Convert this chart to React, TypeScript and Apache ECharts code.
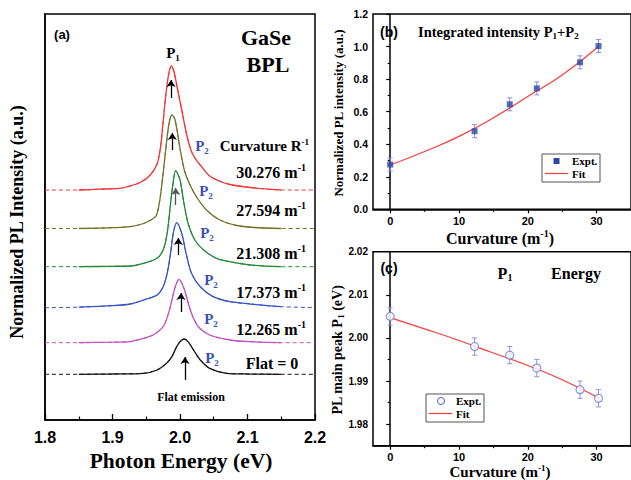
import React, { useEffect, useRef } from "react";
import * as echarts from "echarts";

// ---------- Panel (a): PL spectra (energy eV, intensity above own baseline) ----------
const SPECTRUM_LABELS = ["Flat = 0", "12.265", "17.373", "21.308", "27.594", "30.276"];
const SPECTRUM_COLORS = ["#161616", "#c352c3", "#3854c4", "#218a3b", "#72722a", "#f23636"];
const SPECTRUM_OFFSETS = [0.457, 0.773, 1.123, 1.533, 1.915, 2.3];

const SPEC_FLAT = [
  [1.85, 0], [1.9, 0.003], [1.946, 0.01], [1.966, 0.043], [1.98, 0.11], [1.988, 0.176],
  [1.995, 0.276], [2.0, 0.326], [2.006, 0.353], [2.012, 0.326], [2.02, 0.243], [2.03, 0.143],
  [2.044, 0.06], [2.069, 0.01], [2.1, 0.003], [2.15, 0],
];
const SPEC_12 = [
  [1.85, 0], [1.9, 0.005], [1.926, 0.01], [1.941, 0.034], [1.96, 0.077], [1.975, 0.16],
  [1.983, 0.294], [1.988, 0.427], [1.993, 0.56], [1.9985, 0.634], [2.005, 0.56], [2.011, 0.427],
  [2.017, 0.294], [2.027, 0.16], [2.044, 0.077], [2.074, 0.027], [2.104, 0.01], [2.15, 0],
];
const SPEC_17 = [
  [1.85, 0.005], [1.9, 0.02], [1.926, 0.037], [1.946, 0.077], [1.966, 0.127], [1.975, 0.21],
  [1.981, 0.344], [1.986, 0.544], [1.99, 0.744], [1.995, 0.85], [2.0025, 0.744], [2.009, 0.544],
  [2.017, 0.344], [2.03, 0.21], [2.049, 0.11], [2.074, 0.06], [2.104, 0.037], [2.13, 0.02], [2.15, 0.01],
];
const SPEC_21 = [
  [1.85, 0], [1.9, 0.004], [1.926, 0.007], [1.946, 0.034], [1.966, 0.084], [1.975, 0.167],
  [1.981, 0.334], [1.985, 0.567], [1.989, 0.8], [1.9936, 0.96], [2.0, 0.867], [2.005, 0.667],
  [2.012, 0.434], [2.022, 0.267], [2.035, 0.167], [2.054, 0.084], [2.074, 0.05], [2.104, 0.017], [2.15, 0],
];
const SPEC_27 = [
  [1.85, 0], [1.9, 0.008], [1.926, 0.018], [1.946, 0.05], [1.958, 0.09], [1.965, 0.13],
  [1.97, 0.28], [1.975, 0.55], [1.98, 0.86], [1.984, 1.06], [1.988, 1.135], [1.992, 1.1],
  [1.996, 0.97], [2.0, 0.8], [2.007, 0.57], [2.016, 0.42], [2.025, 0.31], [2.04, 0.18],
  [2.059, 0.085], [2.084, 0.03], [2.11, 0.01], [2.15, 0],
];
const SPEC_30 = [
  [1.85, 0], [1.88, 0.008], [1.911, 0.017], [1.921, 0.03], [1.941, 0.075], [1.956, 0.15],
  [1.966, 0.26], [1.971, 0.42], [1.975, 0.68], [1.979, 0.95], [1.983, 1.15], [1.987, 1.24],
  [1.991, 1.185], [1.996, 1.02], [2.003, 0.785], [2.01, 0.55], [2.017, 0.385], [2.024, 0.3],
  [2.03, 0.25], [2.044, 0.14], [2.06, 0.085], [2.074, 0.055], [2.104, 0.025], [2.13, 0.008], [2.15, 0],
];
const SPECTRA = [SPEC_FLAT, SPEC_12, SPEC_17, SPEC_21, SPEC_27, SPEC_30];

// P1 arrows (energy, from, to) in panel-(a) units
const ARROW_E = [2.0074, 2.0015, 1.9975, 1.9936, 1.9886, 1.9867];
const ARROW_FROM = [0.4, 1.08, 1.65, 2.15, 2.7, 3.22];
const ARROW_TO = [0.63, 1.27, 1.82, 2.32, 2.87, 3.4];
const ARROW_COLORS = ["#000", "#000", "#000", "#555", "#000", "#000"];

// ---------- Panels (b), (c) ----------
const CURVATURE = [0, 12.265, 17.373, 21.308, 27.594, 30.276];
const INTENSITY = [0.275, 0.48, 0.645, 0.743, 0.903, 1.003];
const INTENSITY_ERR = [0.04, 0.04, 0.04, 0.04, 0.04, 0.04];
const FIT_X = [0, 5, 10, 15, 20, 25, 30.276];
const INTENSITY_FIT = [0.272, 0.355, 0.448, 0.562, 0.693, 0.825, 1.0];
const ENERGY_P1 = [2.005, 1.998, 1.996, 1.993, 1.988, 1.986];
const ENERGY_ERR = [0.002, 0.002, 0.002, 0.002, 0.002, 0.002];
const ENERGY_FIT = [2.0047, 2.0021, 1.9994, 1.9965, 1.9936, 1.9903, 1.9861];

const X_TICKS = [0, 10, 20, 30];
const X_MINOR = [5, 15, 25];
const E_TICKS = [1.98, 1.99, 2.0, 2.01, 2.02];
const E_MINOR = [1.985, 1.995, 2.005, 2.015];

const SERIF = "'Liberation Serif','Times New Roman',serif";
const SANS = "'Liberation Sans',Arial,sans-serif";
const P2_BLUE = "#3a4fb8";
const FIT_RED = "#ff3a3a";
const EXPT_B = "#2a47a6";
const EXPT_C = "#6f7cd2";

function rich(size: number, color = "#000") {
  const base = { fontWeight: "bold", fontFamily: SERIF, fill: color };
  return {
    n: { ...base, fontSize: size, lineHeight: Math.round(size * 1.2) },
    sup: { ...base, fontSize: Math.round(size * 0.62), lineHeight: Math.round(size * 0.62), verticalAlign: "top" },
    sub: { ...base, fontSize: Math.round(size * 0.62), lineHeight: Math.round(size * 0.62), verticalAlign: "bottom" },
  };
}

function rtext(text: string, x: number, y: number, size: number, align = "center", color = "#000", rotation = 0) {
  return {
    type: "text", x, y, rotation, silent: true, z: 10,
    style: {
      text, rich: rich(size, color), align, verticalAlign: "middle",
      textAlign: align, textVerticalAlign: "middle",
    },
  };
}

function stext(text: string, x: number, y: number, size: number) {
  return {
    type: "text", x, y, silent: true, z: 10,
    style: {
      text, font: `bold ${size}px ${SANS}`, fill: "#000", align: "center", verticalAlign: "middle",
      textAlign: "center", textVerticalAlign: "middle",
    },
  };
}

function legendBox(x: number, y: number, marker: any) {
  const txt = (t: string, ty: number) => ({
    type: "text", x: x + 30, y: ty, silent: true,
    style: {
      text: t, font: `bold 11px ${SERIF}`, fill: "#000", align: "left", verticalAlign: "middle",
      textAlign: "left", textVerticalAlign: "middle",
    },
  });
  return {
    type: "group", silent: true, z: 10,
    children: [
      { type: "rect", shape: { x, y, width: 58, height: 28 }, style: { fill: "#fff", stroke: "#555", lineWidth: 1 } },
      marker,
      { type: "line", shape: { x1: x + 3, y1: y + 19.5, x2: x + 26, y2: y + 19.5 }, style: { stroke: FIT_RED, lineWidth: 1.2 } },
      txt("Expt.", y + 7),
      txt("Fit", y + 19.5),
    ],
  };
}

function errorBars(color: string) {
  return (params: any, api: any) => {
    const x = api.value(0);
    const y = api.value(1);
    const e = api.value(2);
    const top = api.coord([x, y + e]);
    const bot = api.coord([x, y - e]);
    const st = { stroke: color, lineWidth: 1 };
    return {
      type: "group",
      children: [
        { type: "line", shape: { x1: top[0], y1: top[1], x2: bot[0], y2: bot[1] }, style: st },
        { type: "line", shape: { x1: top[0] - 2.5, y1: top[1], x2: top[0] + 2.5, y2: top[1] }, style: st },
        { type: "line", shape: { x1: bot[0] - 2.5, y1: bot[1], x2: bot[0] + 2.5, y2: bot[1] }, style: st },
      ],
    };
  };
}

export default function App() {
  const ref = useRef<HTMLDivElement>(null);

  useEffect(() => {
    if (!ref.current) return;
    const chart = echarts.init(ref.current, undefined, { renderer: "svg" });

    const axisLine = { show: true, lineStyle: { color: "#000", width: 1.5 } };
    const smallLabel = { color: "#000", fontFamily: SANS, fontWeight: "bold", fontSize: 11 };
    const grid = (left: number, top: number, width: number, height: number) => ({
      left, top, width, height, show: true, borderColor: "#000", borderWidth: 1.5, backgroundColor: "transparent",
    });

    const series: any[] = [];
    SPECTRA.forEach((spec, i) => {
      const off = SPECTRUM_OFFSETS[i];
      const shifted = spec.map(([e, h]) => [e, h + off]);
      series.push({
        type: "line", name: "fit " + SPECTRUM_LABELS[i], xAxisIndex: 0, yAxisIndex: 0,
        data: [[1.8, off], ...shifted, [2.2, off]], symbol: "none", showSymbol: false, smooth: 0.3,
        lineStyle: { color: SPECTRUM_COLORS[i], width: 1, type: [4, 3] }, silent: true, z: 2,
      });
    });
    SPECTRA.forEach((spec, i) => {
      const off = SPECTRUM_OFFSETS[i];
      series.push({
        type: "line", name: "data " + SPECTRUM_LABELS[i], xAxisIndex: 0, yAxisIndex: 0,
        data: spec.map(([e, h]) => [e, h + off]), symbol: "none", showSymbol: false, smooth: 0.3,
        lineStyle: { color: SPECTRUM_COLORS[i], width: 1.3 }, silent: true, z: 3,
        markLine: {
          silent: true, symbol: ["none", "arrow"], symbolSize: 7, label: { show: false }, z: 5,
          lineStyle: { color: ARROW_COLORS[i], width: 1.3, type: "solid" },
          emphasis: { disabled: true },
          data: [[
            { coord: [ARROW_E[i], ARROW_FROM[i]], symbol: "none" },
            { coord: [ARROW_E[i], ARROW_TO[i]], symbol: "arrow", symbolSize: 7 },
          ]],
        },
      });
    });

    // panel (b)
    series.push({
      type: "custom", name: "err b", xAxisIndex: 1, yAxisIndex: 1, silent: true, z: 3,
      data: CURVATURE.map((c, i) => [c, INTENSITY[i], INTENSITY_ERR[i]]),
      renderItem: errorBars("#8392e0"),
    });
    series.push({
      type: "line", name: "Fit (b)", xAxisIndex: 1, yAxisIndex: 1, smooth: true, symbol: "none",
      data: FIT_X.map((x, i) => [x, INTENSITY_FIT[i]]),
      lineStyle: { color: FIT_RED, width: 1.2 }, silent: true, z: 4,
    });
    series.push({
      type: "scatter", name: "Expt. (b)", xAxisIndex: 1, yAxisIndex: 1, symbol: "rect", symbolSize: 6,
      data: CURVATURE.map((c, i) => [c, INTENSITY[i]]), itemStyle: { color: EXPT_B }, silent: true, z: 5,
    });

    // panel (c)
    series.push({
      type: "custom", name: "err c", xAxisIndex: 3, yAxisIndex: 2, silent: true, z: 3,
      data: CURVATURE.map((c, i) => [c, ENERGY_P1[i], ENERGY_ERR[i]]),
      renderItem: errorBars("#8a94dc"),
    });
    series.push({
      type: "line", name: "Fit (c)", xAxisIndex: 3, yAxisIndex: 2, smooth: true, symbol: "none",
      data: FIT_X.map((x, i) => [x, ENERGY_FIT[i]]),
      lineStyle: { color: FIT_RED, width: 1.2 }, silent: true, z: 4,
    });
    series.push({
      type: "scatter", name: "Expt. (c)", xAxisIndex: 3, yAxisIndex: 2, symbol: "circle", symbolSize: 8,
      data: CURVATURE.map((c, i) => [c, ENERGY_P1[i]]),
      itemStyle: { color: "#ffffff", borderColor: EXPT_C, borderWidth: 1.2 }, silent: true, z: 5,
    });

    const option: any = {
      animation: false,
      backgroundColor: "#fff",
      grid: [grid(45, 14, 270, 406), grid(373, 14, 267, 195.3), grid(373, 251.7, 267, 194)],
      xAxis: [
        {
          type: "value", gridIndex: 0, min: 1.8, max: 2.2, interval: 0.1, position: "bottom",
          axisLine,
          axisTick: { show: true, inside: true, length: 6, lineStyle: { color: "#000", width: 1.3 } },
          minorTick: { show: true, splitNumber: 2, length: 3.5, lineStyle: { color: "#000", width: 1.2 } },
          axisLabel: { ...smallLabel, fontSize: 16, margin: 9, formatter: (v: number) => v.toFixed(1) },
          splitLine: { show: false },
        },
        {
          type: "value", gridIndex: 1, min: -2.5, max: 35, position: "bottom", axisLine,
          axisTick: { show: true, length: 4, customValues: X_TICKS, lineStyle: { color: "#000", width: 1.2 } },
          axisLabel: { ...smallLabel, margin: 6, customValues: X_TICKS },
          splitLine: { show: false },
        },
        {
          type: "value", gridIndex: 1, min: -2.5, max: 35, position: "bottom", axisLine: { show: false },
          axisTick: { show: true, length: 2.5, customValues: X_MINOR, lineStyle: { color: "#000", width: 1.2 } },
          axisLabel: { show: false }, splitLine: { show: false },
        },
        {
          type: "value", gridIndex: 2, min: -2.5, max: 35, position: "bottom", axisLine,
          axisTick: { show: true, length: 4, customValues: X_TICKS, lineStyle: { color: "#000", width: 1.2 } },
          axisLabel: { ...smallLabel, margin: 6, customValues: X_TICKS },
          splitLine: { show: false },
        },
        {
          type: "value", gridIndex: 2, min: -2.5, max: 35, position: "bottom", axisLine: { show: false },
          axisTick: { show: true, length: 2.5, customValues: X_MINOR, lineStyle: { color: "#000", width: 1.2 } },
          axisLabel: { show: false }, splitLine: { show: false },
        },
      ],
      yAxis: [
        {
          type: "value", gridIndex: 0, min: 0, max: 4.06, position: "left", axisLine,
          axisTick: { show: false }, axisLabel: { show: false }, splitLine: { show: false },
        },
        {
          type: "value", gridIndex: 1, min: 0, max: 1.2, interval: 0.2, position: "left", axisLine,
          axisTick: { show: true, length: 4, lineStyle: { color: "#000", width: 1.2 } },
          minorTick: { show: true, splitNumber: 2, length: 2.5, lineStyle: { color: "#000", width: 1.2 } },
          axisLabel: { ...smallLabel, fontSize: 10.5, margin: 5, formatter: (v: number) => v.toFixed(1) },
          splitLine: { show: false },
        },
        {
          type: "value", gridIndex: 2, min: 1.975, max: 2.02, position: "left", axisLine,
          axisTick: { show: true, length: 4, customValues: E_TICKS, lineStyle: { color: "#000", width: 1.2 } },
          axisLabel: { ...smallLabel, fontSize: 10, margin: 5, customValues: E_TICKS, formatter: (v: number) => v.toFixed(2) },
          splitLine: { show: false },
        },
        {
          type: "value", gridIndex: 2, min: 1.975, max: 2.02, position: "left", axisLine: { show: false },
          axisTick: { show: true, length: 2.5, customValues: E_MINOR, lineStyle: { color: "#000", width: 1.2 } },
          axisLabel: { show: false }, splitLine: { show: false },
        },
      ],
      series,
      graphic: [
        stext("(a)", 62, 34, 13),
        rtext("{n|GaSe}", 266, 37, 22),
        rtext("{n|BPL}", 268, 64, 22),
        rtext("{n|P}{sub|1}", 173, 53, 15),
        rtext("{n|Curvature R}{sup|-1}", 309, 146, 15, "right"),
        rtext("{n|30.276 m}{sup|-1}", 306, 172, 16, "right"),
        rtext("{n|27.594 m}{sup|-1}", 306, 210, 16, "right"),
        rtext("{n|21.308 m}{sup|-1}", 306, 253, 16, "right"),
        rtext("{n|17.373 m}{sup|-1}", 306, 292, 16, "right"),
        rtext("{n|12.265 m}{sup|-1}", 306, 329, 16, "right"),
        rtext("{n|Flat = 0}", 272, 363, 16),
        rtext("{n|Flat emission}", 191, 397, 12),
        rtext("{n|P}{sub|2}", 202, 146, 15, "center", P2_BLUE),
        rtext("{n|P}{sub|2}", 206, 191, 15, "center", P2_BLUE),
        rtext("{n|P}{sub|2}", 207, 233, 15, "center", P2_BLUE),
        rtext("{n|P}{sub|2}", 211, 280, 15, "center", P2_BLUE),
        rtext("{n|P}{sub|2}", 211, 319, 15, "center", P2_BLUE),
        rtext("{n|P}{sub|2}", 212, 358, 15, "center", P2_BLUE),
        rtext("{n|Photon Energy (eV)}", 181, 461, 21.5),
        rtext("{n|Normalized PL Intensity (a.u.)}", 17, 222, 18, "center", "#000", Math.PI / 2),
        stext("(b)", 389, 32, 14),
        rtext("{n|Integrated intensity P}{sub|1}{n|+P}{sub|2}", 418, 32, 14.5, "left"),
        rtext("{n|Normalized PL intensity (a.u.)}", 338, 113, 13, "center", "#000", Math.PI / 2),
        rtext("{n|Curvature (m}{sup|-1}{n|)}", 500, 238, 16),
        stext("(c)", 389, 268, 14),
        rtext("{n|P}{sub|1}", 505, 273, 16),
        rtext("{n|Energy}", 576, 273, 16),
        rtext("{n|PL main peak P}{sub|1}{n| (eV)}", 337, 350, 14, "center", "#000", Math.PI / 2),
        rtext("{n|Curvature (m}{sup|-1}{n|)}", 500, 472, 15),
        legendBox(542, 154, {
          type: "rect", shape: { x: 553.5, y: 158, width: 6, height: 6 }, style: { fill: EXPT_B },
        }),
        legendBox(426, 394, {
          type: "circle", shape: { cx: 441, cy: 401, r: 3.5 }, style: { fill: "#fff", stroke: EXPT_C, lineWidth: 1.2 },
        }),
      ],
    };

    chart.setOption(option);
    return () => chart.dispose();
  }, []);

  return (
    <div
      ref={ref}
      style={{ position: "fixed", left: 0, top: 0, width: 631, height: 480, background: "#fff" }}
    />
  );
}
